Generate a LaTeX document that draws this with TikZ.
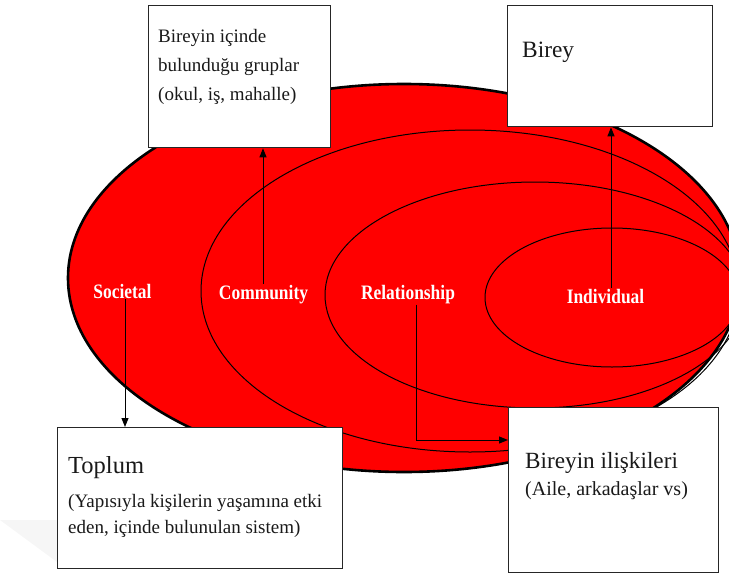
\documentclass[tikz,border=0pt]{standalone}
\usepackage{fontspec}
\setmainfont{Liberation Serif}
\newfontfamily\lblfont[FakeStretch=0.85]{Liberation Serif}
\usetikzlibrary{arrows.meta}
\definecolor{ringred}{RGB}{255,0,0}
\tikzset{
  box/.style={draw=black!85, line width=1.3pt, fill=white, inner sep=0pt, anchor=north west},
  txt/.style={anchor=base west, inner sep=0pt, text=black!90},
  lbl/.style={inner sep=1pt, anchor=base, text=white, font=\lblfont\bfseries\fontsize{20.5}{22}\selectfont},
  ring/.style={draw=black, line width=1pt},
  arr/.style={draw=black, line width=1pt, -{Triangle[length=9pt,width=7pt]}}
}
\begin{document}
\begin{tikzpicture}[x=1pt,y=-1pt]
\useasboundingbox (0,0) rectangle (729,576);
\fill[gray!7] (0,520) -- (57,520) -- (57,562) -- cycle;
\begin{scope}
\clip (0,0) rectangle (729,576);
\fill[ringred] (404,278) ellipse [x radius=336pt, y radius=194pt];
\draw[ring] (470,291) ellipse [x radius=269pt, y radius=161pt];
\draw[ring] (535,295) ellipse [x radius=210pt, y radius=113pt];
\draw[ring] (612,297.5) ellipse [x radius=127pt, y radius=69.5pt];
\draw[black, line width=2.6pt] (404,278) ellipse [x radius=336pt, y radius=194pt];
\end{scope}
% labels
\node[lbl] (soc) at (122.5,298) {Societal};
\node[lbl] (com) at (263.5,299) {Community};
\node[lbl] (rel) at (408,299) {Relationship};
\node[lbl] (ind) at (605.5,303) {Individual};
% boxes
\node[box, minimum width=182pt, minimum height=142pt] (b1) at (148,5) {};
\node[box, minimum width=205pt, minimum height=121pt] (b2) at (507,5) {};
\node[box, minimum width=285pt, minimum height=141pt] (b3) at (57,427) {};
\node[box, minimum width=210pt, minimum height=165pt] (b4) at (508,407) {};
% box texts
\node[txt, font=\fontsize{19}{22}\selectfont] (t1a) at (158,42) {Bireyin içinde};
\node[txt, font=\fontsize{19}{22}\selectfont] (t1b) at (158,71) {bulunduğu gruplar};
\node[txt, font=\fontsize{19}{22}\selectfont] (t1c) at (158,100) {(okul, iş, mahalle)};
\node[txt, font=\fontsize{23.4}{26}\selectfont] (t2) at (522,57) {Birey};
\node[txt, font=\fontsize{24.5}{27}\selectfont] (t3a) at (68,473) {Toplum};
\node[txt, font=\fontsize{19}{22}\selectfont] (t3b) at (68,507) {(Yapısıyla kişilerin yaşamına etki};
\node[txt, font=\fontsize{19}{22}\selectfont] (t3c) at (68,533) {eden, içinde bulunulan sistem)};
\node[txt, font=\fontsize{23.2}{26}\selectfont] (t4a) at (525,468) {Bireyin ilişkileri};
\node[txt, font=\fontsize{20}{23}\selectfont] (t4b) at (525,495) {(Aile, arkadaşlar vs)};
% connectors
\coordinate (cs) at ([xshift=2.5pt]soc.south);
\draw[arr] (cs) -- (cs |- b3.north);
\coordinate (cc) at ([xshift=-0.5pt]com.north);
\draw[arr] (cc) -- (cc |- b1.south);
\coordinate (ci) at ([xshift=5.5pt]ind.north);
\draw[arr] (ci) -- (ci |- b2.south);
\coordinate (cr) at ([xshift=8pt]rel.south);
\coordinate (crk) at (cr |- 0,440);
\draw[arr] (cr) -- (crk) -- (crk -| b4.west);
\end{tikzpicture}
\end{document}
